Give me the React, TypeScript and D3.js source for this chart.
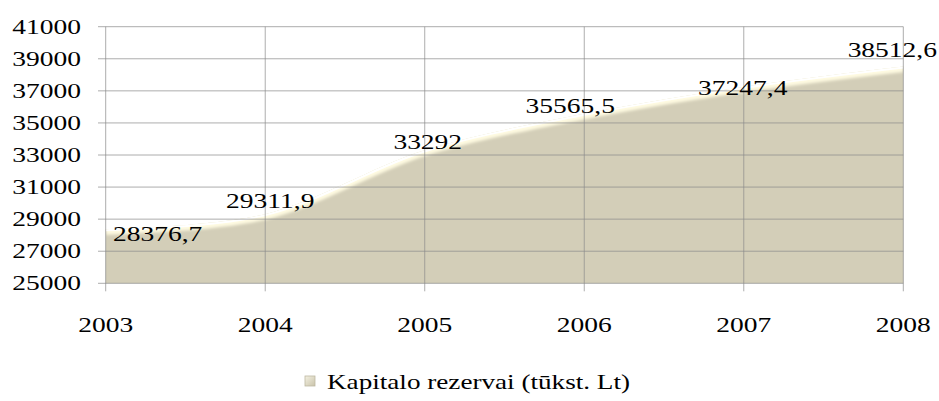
import { useEffect, useRef } from "react";
import * as d3 from "d3";

const years = ["2003", "2004", "2005", "2006", "2007", "2008"];
const reserves = [28376.7, 29311.9, 33292, 35565.5, 37247.4, 38512.6];
const labels = ["28376,7", "29311,9", "33292", "35565,5", "37247,4", "38512,6"];
const yTicks = [25000, 27000, 29000, 31000, 33000, 35000, 37000, 39000, 41000];
const legendLabel = "Kapitalo rezervai (tūkst. Lt)";

const App: React.FC = () => {
  const svgRef = useRef<SVGSVGElement | null>(null);

  useEffect(() => {
    if (!svgRef.current) return;
    const width = 939;
    const height = 401;
    const svg = d3.select(svgRef.current);
    svg.selectAll("*").remove();
    svg.attr("width", width).attr("height", height);

    const font = "'Liberation Serif', 'Times New Roman', serif";
    const sx = 1.25; // text in the picture is stretched horizontally

    const x = d3.scalePoint<string>().domain(years).range([105.7, 903.3]);
    const y = d3.scaleLinear().domain([25000, 41000]).range([283.3, 26.7]);
    const left = 98;
    const right = x("2008")!;

    const pts = years.map((yr, i) => ({ yr, v: reserves[i] }));

    const defs = svg.append("defs");
    const grad = defs
      .append("linearGradient")
      .attr("id", "legendGrad")
      .attr("x1", 0)
      .attr("y1", 0)
      .attr("x2", 1)
      .attr("y2", 1);
    grad.append("stop").attr("offset", "0%").attr("stop-color", "#f4f1e2");
    grad.append("stop").attr("offset", "100%").attr("stop-color", "#c9c3aa");

    const blur = defs
      .append("filter")
      .attr("id", "soft")
      .attr("x", "-5%")
      .attr("y", "-20%")
      .attr("width", "110%")
      .attr("height", "140%");
    blur.append("feGaussianBlur").attr("stdDeviation", 1.4);

    const area = d3
      .area<{ yr: string; v: number }>()
      .x((d) => x(d.yr)!)
      .y0(y(25000))
      .y1((d) => y(d.v))
      .curve(d3.curveCatmullRom.alpha(0.5));

    const line = d3
      .line<{ yr: string; v: number }>()
      .x((d) => x(d.yr)!)
      .y((d) => y(d.v))
      .curve(d3.curveCatmullRom.alpha(0.5));

    defs.append("clipPath").attr("id", "areaClip").append("path").attr("d", area(pts)!);

    // area
    svg.append("path").attr("d", area(pts)!).attr("fill", "#d3ceb8");

    const bevel = svg.append("g").attr("clip-path", "url(#areaClip)");
    // darker right / bottom edges
    bevel
      .append("line")
      .attr("x1", right)
      .attr("x2", right)
      .attr("y1", 0)
      .attr("y2", y(25000))
      .attr("stroke", "#a39e88")
      .attr("stroke-width", 7)
      .attr("filter", "url(#soft)");
    bevel
      .append("line")
      .attr("x1", 0)
      .attr("x2", width)
      .attr("y1", y(25000))
      .attr("y2", y(25000))
      .attr("stroke", "#a7a28c")
      .attr("stroke-width", 7)
      .attr("filter", "url(#soft)");
    bevel
      .append("line")
      .attr("x1", x("2003")!)
      .attr("x2", x("2003")!)
      .attr("y1", 0)
      .attr("y2", y(25000))
      .attr("stroke", "#e6e2cd")
      .attr("stroke-width", 5)
      .attr("filter", "url(#soft)");
    // bright top edge
    bevel
      .append("path")
      .attr("d", line(pts)!)
      .attr("fill", "none")
      .attr("stroke", "#fffbe2")
      .attr("stroke-width", 11)
      .attr("filter", "url(#soft)");
    bevel
      .append("path")
      .attr("d", line(pts)!)
      .attr("fill", "none")
      .attr("stroke", "#ffffff")
      .attr("stroke-width", 4);

    // gridlines
    const grid = svg
      .append("g")
      .attr("stroke", "#8a8a8a")
      .attr("stroke-opacity", 0.7)
      .attr("stroke-width", 1);
    yTicks.forEach((t) => {
      grid.append("line").attr("x1", left).attr("x2", right).attr("y1", y(t)).attr("y2", y(t));
    });
    years.forEach((yr) => {
      grid
        .append("line")
        .attr("x1", x(yr)!)
        .attr("x2", x(yr)!)
        .attr("y1", y(41000))
        .attr("y2", y(25000) + 8);
    });

    const styleText = (sel: d3.Selection<SVGTextElement, any, any, any>) =>
      sel.style("font-family", font).style("font-size", "22px").attr("fill", "#000");

    // y labels
    svg
      .append("g")
      .selectAll("text")
      .data(yTicks)
      .enter()
      .append("text")
      .attr("transform", (d) => `translate(81,${y(d) + 7}) scale(${sx},1)`)
      .attr("text-anchor", "end")
      .call(styleText)
      .text((d) => d);

    // x labels
    svg
      .append("g")
      .selectAll("text")
      .data(years)
      .enter()
      .append("text")
      .attr("transform", (d) => `translate(${x(d)},332) scale(${sx},1)`)
      .attr("text-anchor", "middle")
      .call(styleText)
      .text((d) => d);

    // data labels
    const offsets = [
      { dx: 52, dy: 12 },
      { dx: 5, dy: -6 },
      { dx: 3, dy: -1 },
      { dx: -14, dy: -1 },
      { dx: -1, dy: 8 },
      { dx: -11, dy: -10 },
    ];
    svg
      .append("g")
      .selectAll("text")
      .data(pts)
      .enter()
      .append("text")
      .attr(
        "transform",
        (d, i) => `translate(${x(d.yr)! + offsets[i].dx},${y(d.v) + offsets[i].dy}) scale(${sx},1)`
      )
      .attr("text-anchor", "middle")
      .call(styleText)
      .text((d, i) => labels[i]);

    // legend
    const legend = svg.append("g");
    legend
      .append("rect")
      .attr("x", 305)
      .attr("y", 376)
      .attr("width", 10)
      .attr("height", 10)
      .attr("fill", "url(#legendGrad)")
      .attr("stroke", "#bdb8a2")
      .attr("stroke-width", 0.8);
    legend
      .append("text")
      .attr("x", 327)
      .attr("y", 389)
      .call(styleText)
      .attr("textLength", 303)
      .attr("lengthAdjust", "spacingAndGlyphs")
      .text(legendLabel);
  }, []);

  return (
    <div style={{ position: "absolute", left: 0, top: 0 }}>
      <svg ref={svgRef} style={{ display: "block" }}></svg>
    </div>
  );
};

export default App;
